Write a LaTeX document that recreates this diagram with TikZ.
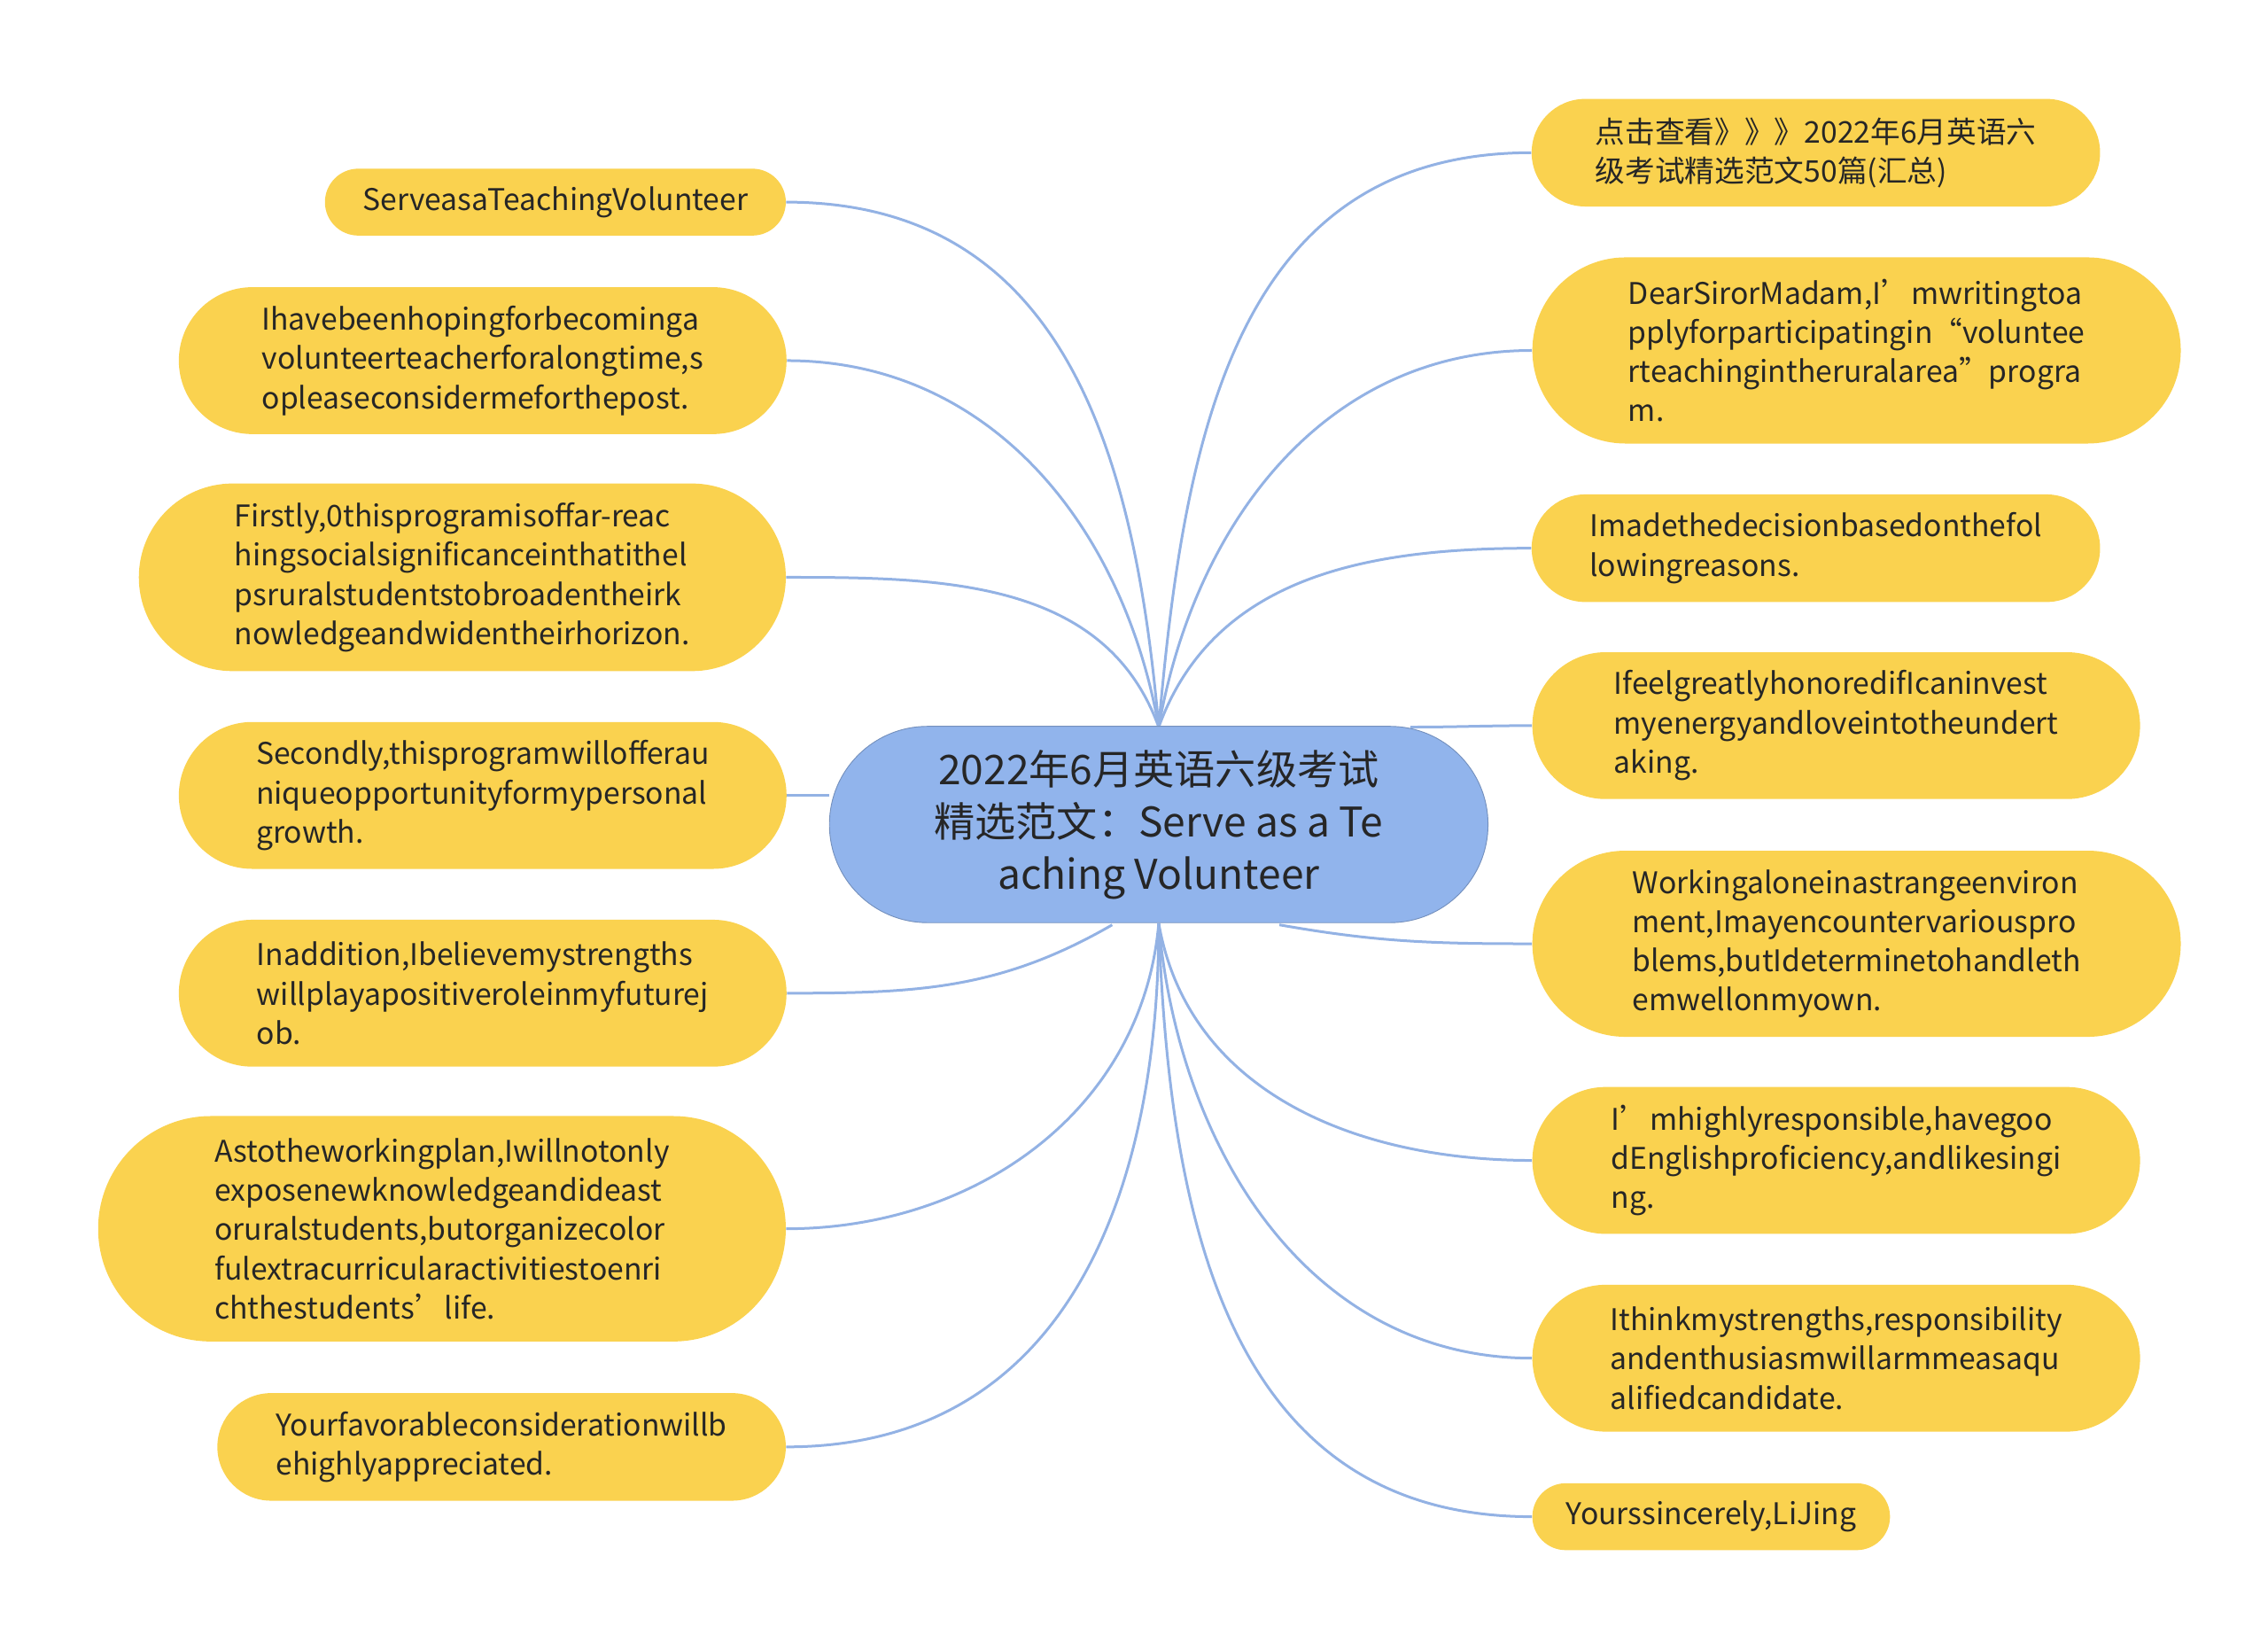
\documentclass[tikz,border=0pt]{standalone}
\usepackage{fontspec}
\setmainfont{Noto Sans CJK SC}
\usetikzlibrary{shapes.misc,backgrounds}
\definecolor{bubyellow}{HTML}{FAD24F}
\definecolor{hubblue}{HTML}{91B4EC}
\definecolor{linkblue}{HTML}{93B2E4}
\tikzset{
  bubble/.style = {rounded rectangle, fill=bubyellow, draw=none, align=left,
    inner sep=0pt, font=\fontsize{14.6}{19.2}\selectfont, text=black!85},
  hub/.style = {rounded rectangle, fill=hubblue, draw=hubblue!80!black, align=center,
    inner sep=0pt, font=\fontsize{20}{25.6}\selectfont, text=black!85},
  link/.style = {draw=linkblue, line width=1.3pt}
}
% name, x, y, width, height, text
\newcommand{\bub}[6]{\node[bubble, minimum width=#4*0.025cm, minimum height=#5*0.025cm] (#1) at (#2,#3) {#6};}
\begin{document}
\begin{tikzpicture}[x=0.025cm, y=-0.025cm]
  \useasboundingbox (0,0) rectangle (1560,1129);
  \node[hub, minimum width=453*0.025cm, minimum height=135*0.025cm] (hub) at (797,567)
    {2022年6月英语六级考试\\精选范文：Serve as a Te\\aching Volunteer};
  \coordinate (top) at (797,500);
  \coordinate (bot) at (797,635);
  % left side
  \bub{serve}{382}{139}{317}{46}{ServeasaTeachingVolunteer}
  \bub{hoping}{332}{248}{418}{101}{Ihavebeenhopingforbecominga\\volunteerteacherforalongtime,s\\opleaseconsidermeforthepost.}
  \bub{firstly}{318}{397}{445}{129}{Firstly,0thisprogramisoffar-reac\\hingsocialsignificanceinthatithel\\psruralstudentstobroadentheirk\\nowledgeandwidentheirhorizon.}
  \bub{secondly}{332}{547}{418}{101}{Secondly,thisprogramwillofferau\\niqueopportunityformypersonal\\growth.}
  \bub{addition}{332}{683}{418}{101}{Inaddition,Ibelievemystrengths\\willplayapositiveroleinmyfuturej\\ob.}
  \bub{plan}{304}{845}{473}{155}{Astotheworkingplan,Iwillnotonly\\exposenewknowledgeandideast\\oruralstudents,butorganizecolor\\fulextracurricularactivitiestoenri\\chthestudents’life.}
  \bub{favor}{345}{995}{391}{74}{Yourfavorableconsiderationwillb\\ehighlyappreciated.}
  % right side
  \bub{click}{1249}{105}{391}{74}{点击查看》》》2022年6月英语六\\级考试精选范文50篇(汇总)}
  \bub{dear}{1277}{241}{446}{128}{DearSirorMadam,I’mwritingtoa\\pplyforparticipatingin“voluntee\\rteachingintheruralarea”progra\\m.}
  \bub{decision}{1249}{377}{391}{74}{Imadethedecisionbasedonthefol\\lowingreasons.}
  \bub{honored}{1263}{499}{418}{101}{IfeelgreatlyhonoredifIcaninvest\\myenergyandloveintotheundert\\aking.}
  \bub{alone}{1277}{649}{446}{128}{Workingaloneinastrangeenviron\\ment,Imayencountervariouspro\\blems,butIdeterminetohandleth\\emwellonmyown.}
  \bub{responsible}{1263}{798}{418}{101}{I’mhighlyresponsible,havegoo\\dEnglishproficiency,andlikesingi\\ng.}
  \bub{think}{1263}{934}{418}{101}{Ithinkmystrengths,responsibility\\andenthusiasmwillarmmeasaqu\\alifiedcandidate.}
  \bub{yours}{1177}{1043}{246}{46}{Yourssincerely,LiJing}
  % connectors
  \begin{scope}[on background layer]
  \draw[link] (top) to[out=95,in=0,looseness=1.1] (serve.east);
  \draw[link] (top) to[out=100,in=0] (hoping.east);
  \draw[link] (top) to[out=110,in=0] (firstly.east);
  \draw[link] (hub.west |- secondly.east) -- (secondly.east);
  \draw[link] (765,636) to[out=-150,in=0] (addition.east);
  \draw[link] (bot) to[out=-95,in=0] (plan.east);
  \draw[link] (bot) to[out=-90,in=0,looseness=1.1] (favor.east);
  \draw[link] (top) to[out=85,in=180,looseness=1.1] (click.west);
  \draw[link] (top) to[out=80,in=180] (dear.west);
  \draw[link] (top) to[out=70,in=180] (decision.west);
  \draw[link] (970,500) to[out=0,in=180] (honored.west);
  \draw[link] (880,636) to[out=-10,in=180] (alone.west);
  \draw[link] (bot) to[out=-80,in=180] (responsible.west);
  \draw[link] (bot) to[out=-85,in=180] (think.west);
  \draw[link] (bot) to[out=-88,in=180,looseness=1.1] (yours.west);
  \end{scope}
\end{tikzpicture}
\end{document}
